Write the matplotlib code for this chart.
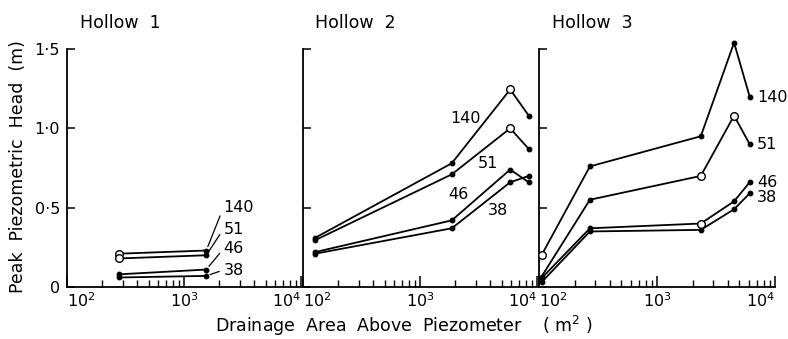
import matplotlib
matplotlib.use('Agg')
import matplotlib.pyplot as plt
from matplotlib.ticker import FixedLocator, LogLocator, NullFormatter

# series labels (piezometer depth, cm)
series_names = ['140', '51', '46', '38']

# Hollow 1
h1_area = [280, 1550]
h1_head = [[0.21, 0.23], [0.18, 0.20], [0.08, 0.11], [0.06, 0.07]]
h1_open = [[0], [0], [], []]

# Hollow 2
h2_area = [127, 1870, 5900, 8500]
h2_head = [[0.31, 0.78, 1.245, 1.08],
           [0.295, 0.71, 1.00, 0.87],
           [0.22, 0.42, 0.74, 0.66],
           [0.21, 0.37, 0.66, 0.70]]
h2_open = [[2], [2], [], []]

# Hollow 3
h3_area = [105, 270, 2350, 4500, 6100]
h3_head = [[0.20, 0.76, 0.95, 1.54, 1.20],
           [0.065, 0.55, 0.70, 1.08, 0.90],
           [0.055, 0.37, 0.40, 0.54, 0.66],
           [0.03, 0.35, 0.36, 0.49, 0.59]]
h3_open = [[0], [2, 3], [2], []]

y_ticks = [0, 0.5, 1.0, 1.5]
y_ticklabels = ['0', '0\u00b75', '1\u00b70', '1\u00b75']
x_ticks = [1e2, 1e3, 1e4]
x_ticklabels = [r'$10^2$', r'$10^3$', r'$10^4$']

FS = 11.5
FS_BIG = 12.5
plt.rcParams['font.family'] = ['DejaVu Sans']
plt.rcParams['mathtext.fontset'] = 'dejavusans'

W, H = 788, 339
fig = plt.figure(figsize=(W / 100, H / 100), dpi=100)


def px_axes(x0, x1, y0=287, y1=49):
    return fig.add_axes([x0 / W, 1 - y0 / H, (x1 - x0) / W, (y0 - y1) / H])


def style_axis(ax, show_ylabels):
    ax.set_xscale('log')
    ax.set_xlim(1e2, 1e4)
    ax.set_ylim(0, 1.5)
    for s in ['top', 'right']:
        ax.spines[s].set_visible(False)
    ax.spines['left'].set_linewidth(1.3)
    ax.spines['bottom'].set_linewidth(1.3)
    ax.xaxis.set_major_locator(FixedLocator(x_ticks))
    ax.xaxis.set_minor_locator(LogLocator(base=10, subs=range(2, 10)))
    ax.xaxis.set_minor_formatter(NullFormatter())
    ax.set_xticks(x_ticks)
    ax.set_xticklabels(x_ticklabels, fontsize=FS)
    labs = ax.get_xticklabels()
    labs[0].set_ha('left')
    labs[-1].set_ha('right')
    ax.tick_params(axis='x', which='major', direction='in', length=8, width=1.1, pad=3)
    ax.tick_params(axis='x', which='minor', direction='in', length=5, width=1.0)
    ax.set_yticks(y_ticks)
    if show_ylabels:
        ax.set_yticklabels(y_ticklabels, fontsize=FS)
    else:
        ax.set_yticklabels([])
    ax.tick_params(axis='y', which='major', direction='in', length=6, width=1.1, pad=5)


def draw_series(ax, area, heads, opens):
    for head, op in zip(heads, opens):
        ax.plot(area, head, color='black', lw=1.3, clip_on=False, zorder=2)
        filled = [i for i in range(len(area)) if i not in op]
        ax.plot([area[i] for i in filled], [head[i] for i in filled], 'o',
                color='black', ms=3.2, clip_on=False, zorder=3)
        if op:
            ax.plot([area[i] for i in op], [head[i] for i in op], 'o',
                    mfc='white', mec='black', mew=1.0, ms=5.5, clip_on=False, zorder=4)


ax1 = px_axes(67, 301)
ax2 = px_axes(303, 537)
ax3 = px_axes(539, 775)

style_axis(ax1, True)
style_axis(ax2, False)
style_axis(ax3, False)

draw_series(ax1, h1_area, h1_head, h1_open)
draw_series(ax2, h2_area, h2_head, h2_open)
draw_series(ax3, h3_area, h3_head, h3_open)

# Hollow 1 labels with leader lines
h1_label_y = [0.50, 0.365, 0.24, 0.107]
for name, head, ly in zip(series_names, h1_head, h1_label_y):
    ax1.annotate(name, xy=(h1_area[-1], head[-1]), xytext=(2170, ly),
                 fontsize=FS, ha='left', va='center', annotation_clip=False,
                 arrowprops=dict(arrowstyle='-', color='black', lw=0.9,
                                 relpos=(0, 0.5), shrinkA=1, shrinkB=3))

# Hollow 2 labels
h2_label_pos = [(2430, 1.065), (3800, 0.78), (2110, 0.58), (4640, 0.48)]
for name, (lx, ly) in zip(series_names, h2_label_pos):
    ax2.text(lx, ly, name, fontsize=FS, ha='center', va='center')

# Hollow 3 labels
h3_label_y = [1.197, 0.895, 0.66, 0.567]
for name, ly in zip(series_names, h3_label_y):
    ax3.text(7030, ly, name, fontsize=FS, ha='left', va='center', clip_on=False)

fig.text(80 / W, 1 - 23 / H, 'Hollow  1', fontsize=FS_BIG, ha='left', va='center')
fig.text(315 / W, 1 - 23 / H, 'Hollow  2', fontsize=FS_BIG, ha='left', va='center')
fig.text(552 / W, 1 - 23 / H, 'Hollow  3', fontsize=FS_BIG, ha='left', va='center')

fig.text(18 / W, 1 - 167 / H, 'Peak  Piezometric  Head  (m)', fontsize=FS_BIG,
         rotation=90, ha='center', va='center')
fig.text(404 / W, 1 - 326 / H, 'Drainage  Area  Above  Piezometer    ( m$^2$ )',
         fontsize=FS_BIG, ha='center', va='center')

fig.savefig('out.png', dpi=100)
